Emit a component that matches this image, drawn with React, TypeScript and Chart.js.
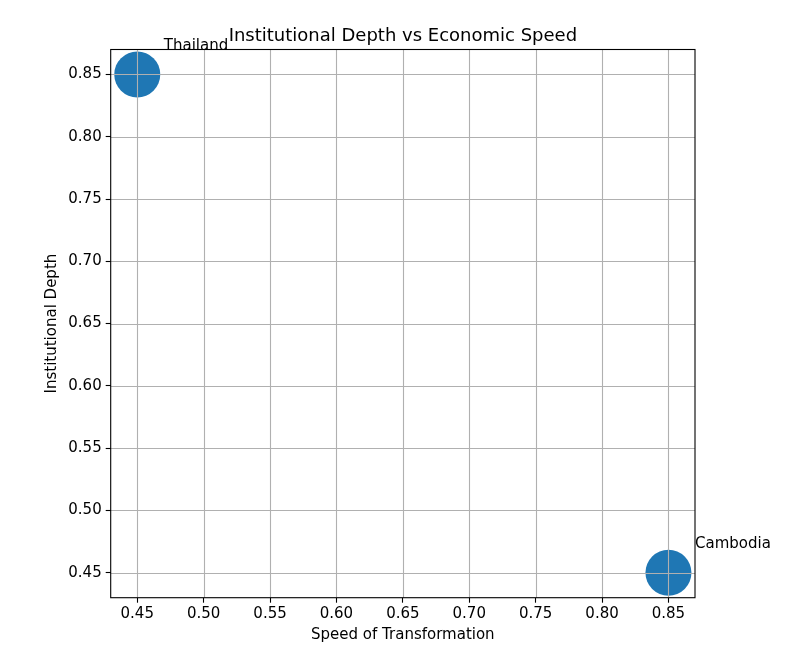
import React, { useEffect, useRef } from "react";
import { Chart, registerables } from "chart.js";

Chart.register(...registerables);

const countries = ["Thailand", "Cambodia"];
const speed = [0.45, 0.85];
const depth = [0.85, 0.45];
const bubbleRadius = [23, 23];
const xTicks = [0.45, 0.5, 0.55, 0.6, 0.65, 0.7, 0.75, 0.8, 0.85];
const yTicks = [0.45, 0.5, 0.55, 0.6, 0.65, 0.7, 0.75, 0.8, 0.85];
const titleText = "Institutional Depth vs Economic Speed";
const xLabel = "Speed of Transformation";
const yLabel = "Institutional Depth";

const FONT = "'DejaVu Sans', sans-serif";

const overlay = {
  id: "mplOverlay",
  afterDatasetsDraw(chart: any) {
    const { ctx, chartArea: a, scales } = chart;
    ctx.save();
    // grid on top of markers
    ctx.strokeStyle = "#b0b0b0";
    ctx.lineWidth = 1.1;
    ctx.beginPath();
    xTicks.forEach((v) => {
      const px = Math.round(scales.x.getPixelForValue(v)) + 0.5;
      ctx.moveTo(px, a.top);
      ctx.lineTo(px, a.bottom);
    });
    yTicks.forEach((v) => {
      const py = Math.round(scales.y.getPixelForValue(v)) + 0.5;
      ctx.moveTo(a.left, py);
      ctx.lineTo(a.right, py);
    });
    ctx.stroke();
    // frame
    ctx.strokeStyle = "#000";
    ctx.lineWidth = 1.1;
    ctx.strokeRect(a.left, a.top, a.right - a.left, a.bottom - a.top);
    // annotations
    ctx.fillStyle = "#000";
    ctx.font = `15px ${FONT}`;
    ctx.textAlign = "left";
    ctx.textBaseline = "alphabetic";
    countries.forEach((c, i) => {
      const px = scales.x.getPixelForValue(speed[i] + 0.02);
      const py = scales.y.getPixelForValue(depth[i] + 0.02);
      ctx.fillText(c, px, py);
    });
    // title
    ctx.textAlign = "center";
    ctx.font = `18px ${FONT}`;
    ctx.fillText(titleText, (a.left + a.right) / 2, 41);
    // x label
    ctx.font = `15px ${FONT}`;
    ctx.textBaseline = "middle";
    ctx.fillText(xLabel, (a.left + a.right) / 2, 635);
    // y label
    ctx.translate(52, (a.top + a.bottom) / 2);
    ctx.rotate(-Math.PI / 2);
    ctx.fillText(yLabel, 0, 0);
    ctx.restore();
  },
};

export default function App() {
  const ref = useRef<HTMLCanvasElement | null>(null);
  useEffect(() => {
    document.body.style.margin = "0";
    const canvas = ref.current!;
    const chart = new Chart(canvas, {
      type: "bubble",
      data: {
        datasets: [
          {
            data: speed.map((x, i) => ({ x, y: depth[i], r: bubbleRadius[i] })),
            backgroundColor: "#1f77b4",
            borderColor: "#1f77b4",
            borderWidth: 0,
            hoverRadius: 0,
          },
        ],
      },
      options: {
        responsive: false,
        animation: false,
        devicePixelRatio: 1,
        layout: { padding: { left: 0, right: 97, top: 49.5, bottom: 0 } },
        plugins: { legend: { display: false }, tooltip: { enabled: false }, title: { display: false } },
        scales: {
          x: {
            type: "linear",
            min: 0.43,
            max: 0.87,
            afterBuildTicks: (s: any) => {
              s.ticks = xTicks.map((v) => ({ value: v }));
            },
            afterFit: (s: any) => {
              s.height = 662 - 597.7;
            },
            grid: { drawOnChartArea: false, tickLength: 5, color: "#000", tickWidth: 1.1 },
            border: { display: false },
            ticks: {
              color: "#000",
              font: { family: FONT, size: 15 },
              padding: 2,
              maxRotation: 0,
              autoSkip: false,
              callback: (v: any) => Number(v).toFixed(2),
            },
          },
          y: {
            type: "linear",
            min: 0.43,
            max: 0.87,
            afterBuildTicks: (s: any) => {
              s.ticks = yTicks.map((v) => ({ value: v }));
            },
            afterFit: (s: any) => {
              s.width = 110.7;
            },
            grid: { drawOnChartArea: false, tickLength: 5, color: "#000", tickWidth: 1.1 },
            border: { display: false },
            ticks: {
              color: "#000",
              font: { family: FONT, size: 15 },
              padding: 4,
              autoSkip: false,
              callback: (v: any) => Number(v).toFixed(2),
            },
          },
        },
      },
      plugins: [overlay],
    });
    return () => chart.destroy();
  }, []);
  return (
    <div style={{ width: 792, height: 662, background: "#fff" }}>
      <canvas ref={ref} width={792} height={662} style={{ display: "block" }} />
    </div>
  );
}
